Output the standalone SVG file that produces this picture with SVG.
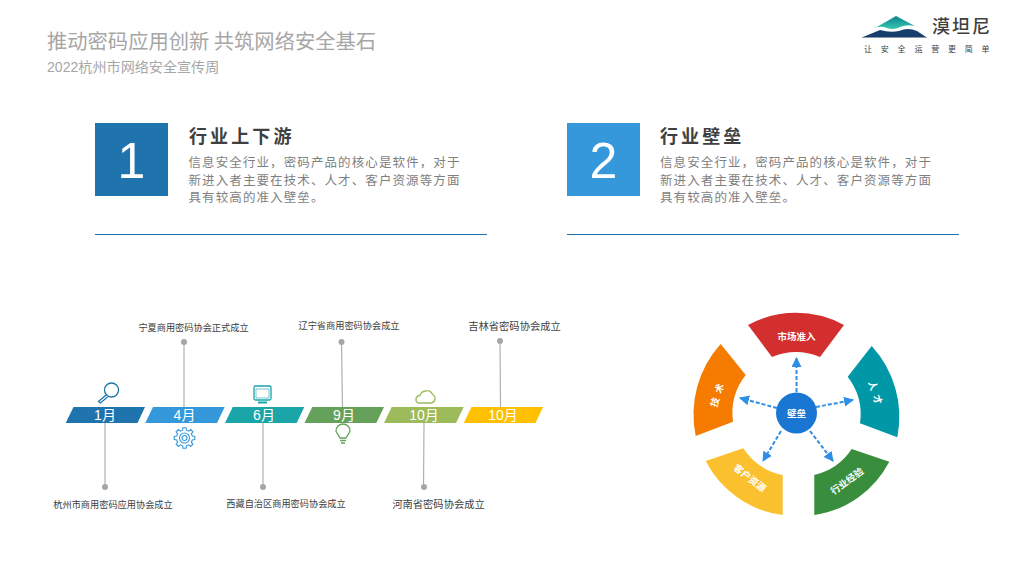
<svg xmlns="http://www.w3.org/2000/svg" width="1024" height="576" viewBox="0 0 1024 576">
<style>
text{font-family:"Noto Sans CJK SC","Liberation Sans",sans-serif}
.lat{font-family:"Liberation Sans","Noto Sans CJK SC",sans-serif}
.h{font-size:18px;font-weight:700;fill:#404040;letter-spacing:3.1px}
.b{font-size:12.5px;fill:#7f7f7f;letter-spacing:1.1px}
.num{font-size:50px;fill:#fff;text-anchor:middle;font-family:"Liberation Sans",sans-serif}
.m{font-size:14px;fill:#fff;text-anchor:middle;font-family:"Liberation Sans","Noto Sans CJK SC",sans-serif}
.ev{font-size:9.2px;fill:#404040;text-anchor:middle}
.ev2{font-size:10.3px}
.st{stroke:#b0b0b0;stroke-width:1.2;fill:none}
.dot{fill:#a6a6a6}
.w{font-size:9.5px;font-weight:700;fill:#fff;text-anchor:middle}
.w2{letter-spacing:5px}
.arr{stroke:#2f8fe6;stroke-width:2;stroke-dasharray:4 2;fill:none;marker-end:url(#ah)}
.ic{fill:none;stroke-width:1.3}
</style>
<defs>
<marker id="ah" markerWidth="7" markerHeight="7" refX="4.5" refY="2.5" orient="auto" markerUnits="strokeWidth"><path d="M0,0L5,2.5L0,5Z" fill="#2f8fe6"/></marker>
<linearGradient id="mt" x1="0" y1="0" x2="0" y2="1"><stop offset="0" stop-color="#0d7f8e"/><stop offset="1" stop-color="#35c9b0"/></linearGradient>
<path id="tooth" d="M-3.060,-7.390L-1.900,-7.800L-1.600,-10.300H1.600L1.900,-7.800L3.060,-7.390"/>
</defs>
<rect width="1024" height="576" fill="#fff"/>
<g id="title">
<text x="47" y="49" font-size="20.3px" fill="#a6a6a6">推动密码应用创新 共筑网络安全基石</text>
<text class="lat" x="47" y="72" font-size="14.100px" fill="#a6a6a6">2022杭州市网络安全宣传周</text>
</g>
<g id="logo">
<path d="M875,28L896,16L915,26Q907,24 900,27Q893,31 884,27Q879,26 875,28Z" fill="url(#mt)"/>
<path d="M863,37L880,30Q890,33 899,31Q908,27 917,31L926,37Z" fill="#173f6e"/>
<rect x="862" y="37" width="65" height="1" fill="#8a9aa8"/>
<text x="932" y="33" font-size="18px" font-weight="500" fill="#404040" letter-spacing="2px">漠坦尼</text>
<text x="864" y="52" font-size="8px" fill="#404040" letter-spacing="8.800px">让安全运营更简单</text>
</g>
<g id="card1">
<rect x="95" y="123" width="73" height="73" fill="#1f74ad"/>
<text class="num" x="131.500" y="178">1</text>
<text class="h" x="189" y="143">行业上下游</text>
<text class="b" x="188.500" y="167">信息安全行业，密码产品的核心是软件，对于</text>
<text class="b" x="188.500" y="185">新进入者主要在技术、人才、客户资源等方面</text>
<text class="b" x="188.500" y="202">具有较高的准入壁垒。</text>
<path d="M95,234.500H487" stroke="#1f74ad" stroke-width="1"/>
</g>
<g id="card2">
<rect x="567" y="123" width="73" height="73" fill="#3498db"/>
<text class="num" x="603.500" y="178">2</text>
<text class="h" x="660" y="143">行业壁垒</text>
<text class="b" x="660" y="167">信息安全行业，密码产品的核心是软件，对于</text>
<text class="b" x="660" y="185">新进入者主要在技术、人才、客户资源等方面</text>
<text class="b" x="660" y="202">具有较高的准入壁垒。</text>
<path d="M567,234.500H959" stroke="#1f74ad" stroke-width="1"/>
</g>
<g id="connectors">
<path class="st" d="M105,423V487"/><circle class="dot" cx="105" cy="487" r="3"/>
<path class="st" d="M184,342V407"/><circle class="dot" cx="184" cy="342" r="3"/>
<path class="st" d="M263,423V487"/><circle class="dot" cx="263" cy="487" r="3"/>
<path class="st" d="M341.500,342L342.500,407"/><circle class="dot" cx="341.500" cy="342" r="3"/>
<path class="st" d="M424,423L423.500,487"/><circle class="dot" cx="424" cy="487" r="3"/>
<path class="st" d="M500,341L500.500,407"/><circle class="dot" cx="500" cy="341" r="3"/>
<path class="arr" d="M796.500,392V358"/>
<path class="arr" d="M816,407L853,400"/>
<path class="arr" d="M777,408L740,398"/>
<path class="arr" d="M781,431L763,461"/>
<path class="arr" d="M810,431L833,461"/>
</g>
<g id="t1"><path d="M65.700,423L73.500,407H145L137.500,423Z" fill="#1f74ad"/><text class="m" x="105" y="420">1月</text>
<g class="ic" stroke="#1f74ad"><circle cx="111.500" cy="390" r="7"/><path d="M106,395L98.500,401.500L100.500,403L107.500,397"/></g></g>
<g id="t2"><path d="M145.300,423L153,407H224.700L217,423Z" fill="#3498db"/><text class="m" x="184.500" y="420">4月</text>
<g class="ic" stroke="#3498db" transform="translate(184.500,438)" style="stroke-width:1.100"><use href="#tooth"/><use href="#tooth" transform="rotate(45)"/><use href="#tooth" transform="rotate(90)"/><use href="#tooth" transform="rotate(135)"/><use href="#tooth" transform="rotate(180)"/><use href="#tooth" transform="rotate(225)"/><use href="#tooth" transform="rotate(270)"/><use href="#tooth" transform="rotate(315)"/><circle r="5"/><circle r="2.500"/></g></g>
<g id="t3"><path d="M225,423L232.700,407H304.300L296.700,423Z" fill="#1aa5a8"/><text class="m" x="264" y="420">6月</text>
<g class="ic" stroke="#1aa5a8"><rect x="254" y="386" width="17" height="14" rx="1.500"/><path d="M258,402.500H267" stroke-width="2"/><path d="M256,389H269V398H256Z" stroke-width=".6"/></g></g>
<g id="t4"><path d="M304.500,423L312.300,407H384L376.300,423Z" fill="#66a15c"/><text class="m" x="344" y="420">9月</text>
<g class="ic" stroke="#66a15c"><path d="M340,438C337,433 336,432 336,431A7 7 0 0 1 350,431C350,432 349,433 346,438Z"/><path d="M340,440.500H346M341,443H345" stroke-width="1.500"/></g></g>
<g id="t5"><path d="M384,423L391.700,407H463.700L456,423Z" fill="#9dbb5a"/><text class="m" x="424" y="420">10月</text>
<g class="ic" stroke="#9dbb5a"><path d="M418,403H431A4.500 4.500 0 0 0 432.500,394.500A5 5 0 0 0 426,391A6.500 6.500 0 0 0 420,395.500A4 4 0 0 0 418,403Z"/></g></g>
<g id="t6"><path d="M463.700,423L471.500,407H543L535.500,423Z" fill="#ffc000"/><text class="m" x="503" y="420">10月</text></g>
<g id="events">
<text class="ev" x="113" y="508">杭州市商用密码应用协会成立</text>
<text class="ev" x="193.500" y="331">宁夏商用密码协会正式成立</text>
<text class="ev" x="286" y="507">西藏自治区商用密码协会成立</text>
<text class="ev" x="349" y="329">辽宁省商用密码协会成立</text>
<text class="ev ev2" x="438.500" y="508">河南省密码协会成立</text>
<text class="ev ev2" x="514.500" y="330">吉林省密码协会成立</text>
</g>
<g id="wheel-market"><path d="M748,325A101 101 0 0 1 844,325L820,357A62 62 0 0 0 772,357Z" fill="#d32f2f"/><text class="w" x="796.500" y="340">市场准入</text></g>
<g id="wheel-talent"><path d="M871.700,346A105 105 0 0 1 897.300,437.300L860,423.300A62 62 0 0 0 847.700,376.700Z" fill="#0097a7"/><text class="w w2" transform="translate(876,395) rotate(72)" y="3.500">人才</text></g>
<g id="wheel-exp"><path d="M889.300,461.700A101 101 0 0 1 814.300,515V475A62 62 0 0 0 851.700,449Z" fill="#388e3c"/><text class="w" transform="translate(847,481) rotate(-36)" y="3.500">行业经验</text></g>
<g id="wheel-client"><path d="M782.700,515A101 101 0 0 1 705.700,461L743.300,448.300A62 62 0 0 0 782.700,475Z" fill="#fbc02d"/><text class="w" transform="translate(750,478) rotate(38)" y="3.500">客户资源</text></g>
<g id="wheel-tech"><path d="M695.700,436A105 105 0 0 1 720.700,344L745.700,375A62 62 0 0 0 733,421.700Z" fill="#f57c00"/><text class="w w2" transform="translate(718,393) rotate(-72)" y="3.500">技术</text></g>
<g id="wheel-center"><circle cx="796.500" cy="413" r="20.500" fill="#1976d2"/><text class="w" x="796.500" y="416.500">壁垒</text></g>
</svg>
